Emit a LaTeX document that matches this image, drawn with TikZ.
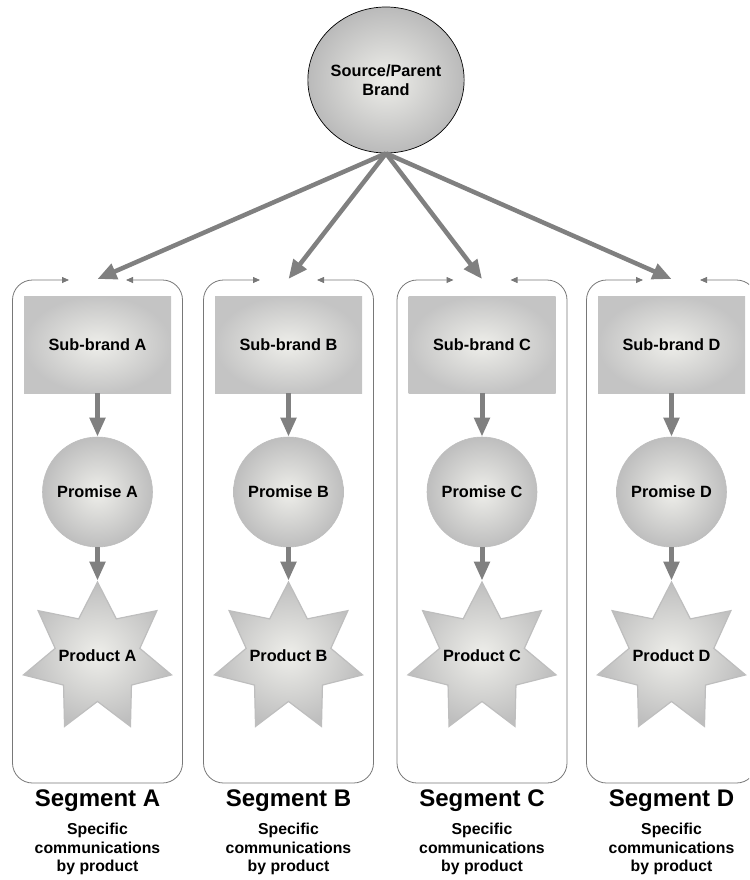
\documentclass[tikz,border=0pt]{standalone}
\usepackage{fontspec}
\setmainfont{Liberation Sans}
\usetikzlibrary{arrows.meta,shapes.geometric}
\definecolor{arrowgray}{RGB}{128,128,128}
\definecolor{lineGray}{RGB}{120,120,120}
\definecolor{shLight}{RGB}{238,238,234}
\definecolor{shRect}{RGB}{196,196,196}
\definecolor{shCirc}{RGB}{190,190,190}
\definecolor{shSrc}{RGB}{186,186,186}
\definecolor{starEdge}{RGB}{190,190,190}
\tikzset{
  bigarrow/.style={draw=arrowgray, line width=4.5pt, -{Triangle[length=19pt,width=16pt]}},
  vertarrow/.style={draw=arrowgray, line width=5pt, -{Triangle[length=19pt,width=15pt]}},
  container/.style={draw=lineGray, line width=0.8pt, rounded corners=20pt, {Triangle[length=7pt,width=6pt]}-{Triangle[length=7pt,width=6pt]}},
  boxfont/.style={font=\bfseries\fontsize{16.3}{19}\selectfont},
  subbrand/.style={rectangle, minimum width=147pt, minimum height=97pt, inner sep=0pt, shading=radial, inner color=shLight, outer color=shRect, boxfont},
  promise/.style={circle, minimum size=110pt, inner sep=0pt, shading=radial, inner color=shLight, outer color=shCirc, draw=starEdge, line width=0.6pt, boxfont},
  product/.style={star, star points=7, star point ratio=1.75, minimum size=152pt, inner sep=0pt, shading=radial, inner color=shLight, outer color=shCirc, draw=starEdge, line width=1.2pt},
  prodtext/.style={inner sep=0pt, boxfont},
  source/.style={ellipse, minimum width=136pt, minimum height=146pt, inner sep=0pt, shading=radial, inner color=shLight, outer color=shSrc, draw=black, line width=0.7pt, align=center, font=\bfseries\fontsize{16.3}{19.5}\selectfont},
  seglabel/.style={anchor=base, inner sep=0pt, font=\bfseries\fontsize{24}{26}\selectfont},
  desc/.style={align=center, inner sep=0pt, font=\bfseries\fontsize{15.8}{18.5}\selectfont}
}
\begin{document}
\begin{tikzpicture}[x=1pt,y=-1pt]
\useasboundingbox (0,0) rectangle (749,880);
\clip (0,0) rectangle (749,880);
\node[source] (src) at (386,80) {Source/Parent\\Brand};
\foreach \l/\cx in {A/97.5,B/288.5,C/482,D/671.5}{
  \draw[container] (\cx-28.5,280) -- (\cx-85,280) -- (\cx-85,783) -- (\cx+85,783) -- (\cx+85,280) -- (\cx+28.5,280);
  \node[subbrand] (sb\l) at (\cx,344.5) {Sub-brand \l};
  \node[promise] (pr\l) at (\cx,492) {Promise \l};
  \node[product] (pd\l) at (\cx,658) {};
  \node[prodtext] (pt\l) at (\cx,656) {Product \l};
  \draw[vertarrow] (sb\l) -- (pr\l);
  \draw[vertarrow] (pr\l) -- (pd\l);
  \coordinate (in\l) at (\cx,279);
  \draw[bigarrow] (src.south) -- (in\l);
  \node[seglabel] (seg\l) at (\cx,806) {Segment \l};
  \node[desc] (desc\l) at (\cx,849) {Specific\\communications\\by product};
}
\end{tikzpicture}
\end{document}
